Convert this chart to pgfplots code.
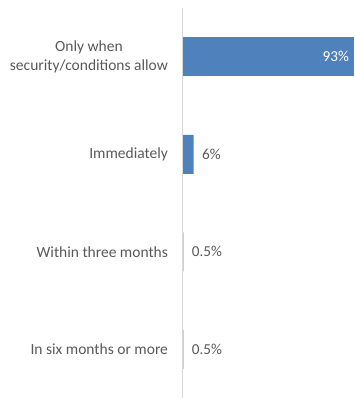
\documentclass[border=0pt]{standalone}
\usepackage{pgfplots}
\pgfplotsset{compat=1.18}
\usepackage{fontspec}
\setmainfont{Carlito}
\definecolor{barblue}{HTML}{4F81BD}
\definecolor{txtgray}{HTML}{595959}
\definecolor{axgray}{HTML}{D9D9D9}
\begin{document}
\begin{tikzpicture}
\useasboundingbox (-182.5pt,0pt) rectangle (171.5pt,398pt);
\begin{axis}[
  at={(0pt,0pt)}, anchor=south west,
  scale only axis,
  width=171.5pt, height=390pt,
  xbar, bar width=39pt,
  xmin=0, xmax=93,
  ymin=-0.5, ymax=3.5, y dir=reverse,
  ytick={0,1,2,3},
  yticklabels={{Only when\\security/conditions allow},{Immediately},{Within three months},{In six months or more}},
  yticklabel style={align=center, font=\fontsize{15.5}{19}\selectfont, text=txtgray, xshift=-11pt},
  major tick length=0pt,
  xtick=\empty,
  axis x line=none,
  axis y line*=left,
  y axis line style={axgray, line width=1.2pt, -},
  axis on top,
  clip=false,
  /pgf/number format/assume math mode=true,
  nodes near coords={\pgfmathprintnumber{\pgfplotspointmeta}\%},
  nodes near coords style={font=\fontsize{15.2}{18}\selectfont},
]
\addplot[fill=barblue, draw=none, bar shift=0pt,
  nodes near coords style={anchor=east, text=white, xshift=-1.5pt}]
  coordinates {(93,0)};
\addplot[fill=barblue, draw=none, bar shift=0pt,
  nodes near coords style={anchor=west, text=txtgray, xshift=5pt}]
  coordinates {(6,1) (0.5,2) (0.5,3)};
\end{axis}
\end{tikzpicture}
\end{document}
